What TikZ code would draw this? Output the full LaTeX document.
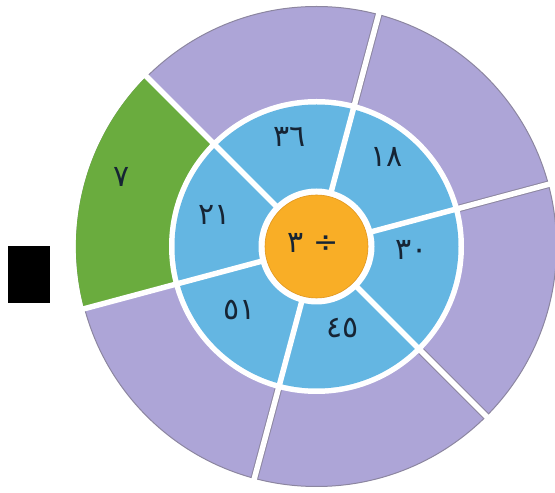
\documentclass[tikz,border=0pt]{standalone}
\usepackage{fontspec}
\newfontfamily\arabicfont[Script=Arabic]{DejaVu Sans}
\TeXXeTstate=1
\definecolor{purp}{RGB}{173,165,215}
\definecolor{pgray}{RGB}{140,134,160}
\definecolor{grn}{RGB}{106,172,62}
\definecolor{blu}{RGB}{100,182,226}
\definecolor{orng}{RGB}{249,174,38}
\definecolor{orngd}{RGB}{225,150,30}
\definecolor{txt}{RGB}{22,36,52}
\begin{document}
\begin{tikzpicture}[x=1pt,y=1pt,
  lbl/.style={font=\arabicfont\fontsize{30}{34}\selectfont, text=txt, inner sep=0pt},
  gapline/.style={white, line width=5.5pt},
  edgeline/.style={pgray, line width=7.5pt}]
\useasboundingbox (0,0) rectangle (555,493);
\begin{scope}[shift={(316.5,246.5)}]
  \coordinate (c) at (0,0);
  % outer ring
  \fill[purp, draw=pgray, line width=1pt] (c) circle[radius=240];
  \fill[grn] (135:147) arc[start angle=135, end angle=195, radius=147]
     -- (195:240.6) arc[start angle=195, end angle=135, radius=240.6] -- cycle;
  \foreach \a in {15,75,255,315}
    \draw[edgeline] (\a:148) -- (\a:239.5);
  % gap ring and blue ring
  \fill[white] (c) circle[radius=147.5];
  \fill[blu] (c) circle[radius=142];
  % dividers
  \foreach \a in {15,75,135,195,255,315}
    \draw[gapline] (c) -- (\a:244);
  % centre
  \fill[white] (c) circle[radius=58];
  \fill[orng, draw=orngd, line width=0.6pt] (c) circle[radius=51.5];
\end{scope}
% labels
\node[lbl] (n36) at (290,356) {٣٦};
\node[lbl] (n18) at (387,336) {١٨};
\node[lbl] (n30) at (412,243) {٣٠};
\node[lbl] (n45) at (343,165) {٤٥};
\node[lbl] (n51) at (240,183) {٥١};
\node[lbl] (n21) at (215,278) {٢١};
\node[lbl] (n7) at (122,316) {٧};
\node[lbl] (ctr) at (313,250) {\beginR ÷ ٣\endR};
% black box
\fill[black] (8,190) rectangle (50,247);
\end{tikzpicture}
\end{document}
